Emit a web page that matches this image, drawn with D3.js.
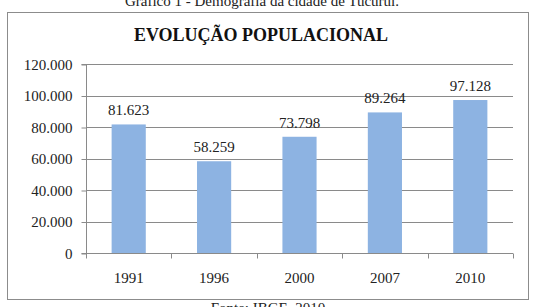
<!DOCTYPE html>
<html>
<head>
<meta charset="utf-8">
<script src="https://cdn.jsdelivr.net/npm/d3@7"></script>
<style>
  body { margin: 0; background: #fff; }
  svg { display: block; }
  svg text { font-family: "Liberation Serif", "Times New Roman", serif; }
</style>
</head>
<body>
<div id="chart"></div>
<script>
// dados do gráfico
const anos = ["1991", "1996", "2000", "2007", "2010"];
const populacao = [81623, 58259, 73798, 89264, 97128];
const yTicks = [0, 20000, 40000, 60000, 80000, 100000, 120000];

const W = 536, H = 307;
const fmt = d3.format(",.0f");
const ptBR = v => v === 0 ? "0" : fmt(v).replace(/,/g, ".");

const svg = d3.select("#chart")
    .append("svg")
        .attr("width", W)
        .attr("height", H);

// legenda superior (cortada)
svg.append("text")
    .attr("x", 262)
    .attr("y", 6)
    .attr("text-anchor", "middle")
    .attr("font-size", "15")
    .attr("fill", "#222")
    .text("Gráfico 1 - Demografia da cidade de Tucuruí.");

// moldura
svg.append("rect")
    .attr("x", 7.5)
    .attr("y", 12.5)
    .attr("width", 521)
    .attr("height", 287)
    .attr("fill", "#fff")
    .attr("stroke", "#8c8c8c")
    .attr("stroke-width", 1);

// título
svg.append("text")
    .attr("x", 261)
    .attr("y", 41)
    .attr("text-anchor", "middle")
    .attr("font-size", "18")
    .attr("font-weight", "bold")
    .attr("fill", "#111")
    .text("EVOLUÇÃO POPULACIONAL");

const pLeft = 86, pRight = 513, pTop = 64, pBottom = 253;

const x = d3.scaleBand()
    .domain(anos)
    .range([pLeft, pRight])
    .paddingInner(0.6)
    .paddingOuter(0.3);

const xCat = d3.scaleBand().domain(anos).range([pLeft, pRight]);

const y = d3.scaleLinear()
    .domain([0, 120000])
    .range([pBottom, pTop]);

// grade
svg.append("g")
    .selectAll("line")
    .data(yTicks.filter(d => d > 0))
    .join("line")
        .attr("x1", pLeft)
        .attr("x2", pRight)
        .attr("y1", d => Math.round(y(d)) + 0.5)
        .attr("y2", d => Math.round(y(d)) + 0.5)
        .attr("stroke", "#8a8a8a")
        .attr("stroke-width", 1);

// eixo Y
const yAxis = svg.append("g")
    .attr("transform", "translate(" + (pLeft + 0.5) + ",0.5)")
    .call(d3.axisLeft(y).tickValues(yTicks).tickFormat(ptBR).tickSize(5).tickPadding(9));
yAxis.select(".domain").attr("stroke", "#8a8a8a").attr("d", "M-5," + pTop + "H0V" + pBottom + "H-5");
yAxis.selectAll(".tick line").attr("stroke", "#8a8a8a");
yAxis.selectAll("text")
    .attr("font-size", "15")
    .attr("fill", "#222");

// barras
svg.append("g")
    .selectAll("rect")
    .data(anos)
    .join("rect")
        .attr("x", d => x(d))
        .attr("width", x.bandwidth())
        .attr("y", (d, i) => y(populacao[i]))
        .attr("height", (d, i) => pBottom - y(populacao[i]))
        .attr("fill", "#8db3e2");

// rótulos dos valores
svg.append("g")
    .selectAll("text")
    .data(anos)
    .join("text")
        .attr("x", d => x(d) + x.bandwidth() / 2)
        .attr("y", (d, i) => y(populacao[i]) - 9)
        .attr("text-anchor", "middle")
        .attr("font-size", "15")
        .attr("fill", "#222")
        .text((d, i) => ptBR(populacao[i]));

// eixo X
const xAxis = svg.append("g")
    .attr("transform", "translate(0," + (pBottom + 0.5) + ")");
xAxis.append("line")
    .attr("x1", pLeft)
    .attr("x2", pRight)
    .attr("stroke", "#8a8a8a");
xAxis.selectAll(".tk")
    .data(anos.concat(["fim"]))
    .join("line")
        .attr("class", "tk")
        .attr("x1", (d, i) => Math.round(i < anos.length ? xCat(d) : pRight) + 0.5)
        .attr("x2", (d, i) => Math.round(i < anos.length ? xCat(d) : pRight) + 0.5)
        .attr("y1", 0)
        .attr("y2", 5)
        .attr("stroke", "#8a8a8a");
xAxis.selectAll(".lb")
    .data(anos)
    .join("text")
        .attr("class", "lb")
        .attr("x", d => xCat(d) + xCat.bandwidth() / 2)
        .attr("y", 29)
        .attr("text-anchor", "middle")
        .attr("font-size", "15")
        .attr("fill", "#222")
        .text(d => d);

// fonte (cortada)
svg.append("text")
    .attr("x", 268)
    .attr("y", 313)
    .attr("text-anchor", "middle")
    .attr("font-size", "15")
    .attr("fill", "#222")
    .text("Fonte: IBGE, 2010");
</script>
</body>
</html>
